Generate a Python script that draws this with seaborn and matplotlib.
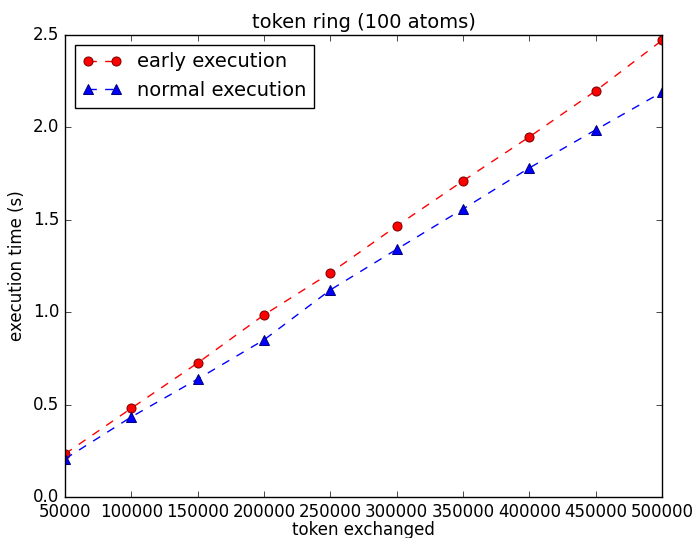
import numpy as np
import pandas as pd
import matplotlib
matplotlib.use('Agg')
import matplotlib.pyplot as plt
import seaborn as sns

# data
tokens = [50000, 100000, 150000, 200000, 250000, 300000, 350000, 400000, 450000, 500000]
early_time = [0.233, 0.48, 0.725, 0.985, 1.212, 1.466, 1.71, 1.948, 2.197, 2.47]
normal_time = [0.206, 0.433, 0.638, 0.85, 1.12, 1.34, 1.558, 1.78, 1.986, 2.19]

plt.style.use('classic')
plt.rcParams['font.family'] = ['DejaVu Sans']

fig = plt.figure(figsize=(6.95, 5.38), dpi=100, facecolor='white')
ax = fig.add_axes([0.0935, 0.0762, 0.859, 0.859])
ax.set_facecolor('white')

sns.lineplot(x=tokens, y=early_time, ax=ax, color='red', linestyle='--',
             marker='o', markersize=6.5, markeredgecolor='#800000',
             label='early execution')
sns.lineplot(x=tokens, y=normal_time, ax=ax, color='blue', linestyle='--',
             marker='^', markersize=6.5, markeredgecolor='#000080',
             label='normal execution')

ax.set_xlim(50000, 500000)
ax.set_ylim(0, 2.5)
ax.set_xticks(np.arange(50000, 500001, 50000))
ax.set_yticks(np.arange(0, 2.51, 0.5))
ax.tick_params(labelsize=12)
ax.set_xlabel('token exchanged', fontsize=12, labelpad=0)
ax.set_ylabel('execution time (s)', fontsize=12)
ax.set_title('token ring (100 atoms)', fontsize=14)
ax.legend(loc='upper left', numpoints=2, fontsize=14)

fig.savefig('out.png', dpi=100, facecolor='white')
